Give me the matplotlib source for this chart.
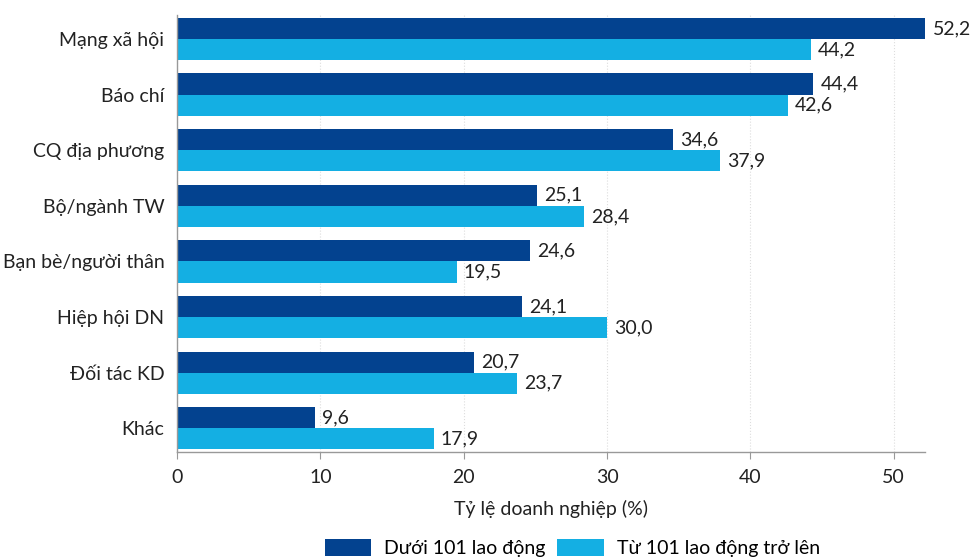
import matplotlib
matplotlib.use("Agg")
import matplotlib.pyplot as plt
import numpy as np

plt.rcParams['font.family'] = ['Lato', 'DejaVu Sans']

categories = ["Mạng xã hội", "Báo chí", "CQ địa phương", "Bộ/ngành TW",
              "Bạn bè/người thân", "Hiệp hội DN", "Đối tác KD", "Khác"]
series_names = ["Dưới 101 lao động", "Từ 101 lao động trở lên"]
small = [52.2, 44.4, 34.6, 25.1, 24.6, 24.1, 20.7, 9.6]
large = [44.2, 42.6, 37.9, 28.4, 19.5, 30.0, 23.7, 17.9]
xticks = [0, 10, 20, 30, 40, 50]

c_dark = "#03428F"
c_light = "#14AFE3"
fs = 14

fig = plt.figure(figsize=(9.75, 5.59), dpi=100)
ax = fig.add_axes([0.1815, 0.191, 0.949 - 0.1815, 0.973 - 0.191])

y = np.arange(len(categories))
h = 0.38
b1 = ax.barh(y - h / 2, small, height=h, color=c_dark, label=series_names[0])
b2 = ax.barh(y + h / 2, large, height=h, color=c_light, label=series_names[1])

for bars, vals in ((b1, small), (b2, large)):
    for rect, v in zip(bars, vals):
        ax.text(v + 0.5, rect.get_y() + rect.get_height() / 2,
                f"{v:.1f}".replace(".", ","), va="center", ha="left",
                fontsize=fs, color="#222222")

ax.set_ylim(len(categories) - 1 + 0.43, -0.43)
ax.set_xlim(0, 52.2)
ax.set_yticks(y)
ax.set_yticklabels(categories, fontsize=fs, color="#222222")
ax.set_xticks(xticks)
ax.set_xticklabels([str(t) for t in xticks], fontsize=fs, color="#222222")
ax.tick_params(axis="y", length=0, pad=9)
ax.tick_params(axis="x", length=5, color="#999999", pad=7)
ax.xaxis.grid(True, linestyle=":", color="#dddddd", linewidth=0.8)
ax.set_axisbelow(True)
for s in ("top", "right"):
    ax.spines[s].set_visible(False)
for s in ("left", "bottom"):
    ax.spines[s].set_color("#999999")
    ax.spines[s].set_linewidth(1.0)

ax.set_xlabel("Tỷ lệ doanh nghiệp (%)", fontsize=fs, color="#222222", labelpad=10)

fig.legend(handles=[b1, b2], labels=series_names, loc="lower center",
           bbox_to_anchor=(0.587, -0.028), ncol=2, frameon=False,
           fontsize=fs, handlelength=2.4, handleheight=1.0, columnspacing=0.6,
           handletextpad=0.67)

fig.savefig("out.png", dpi=100)
